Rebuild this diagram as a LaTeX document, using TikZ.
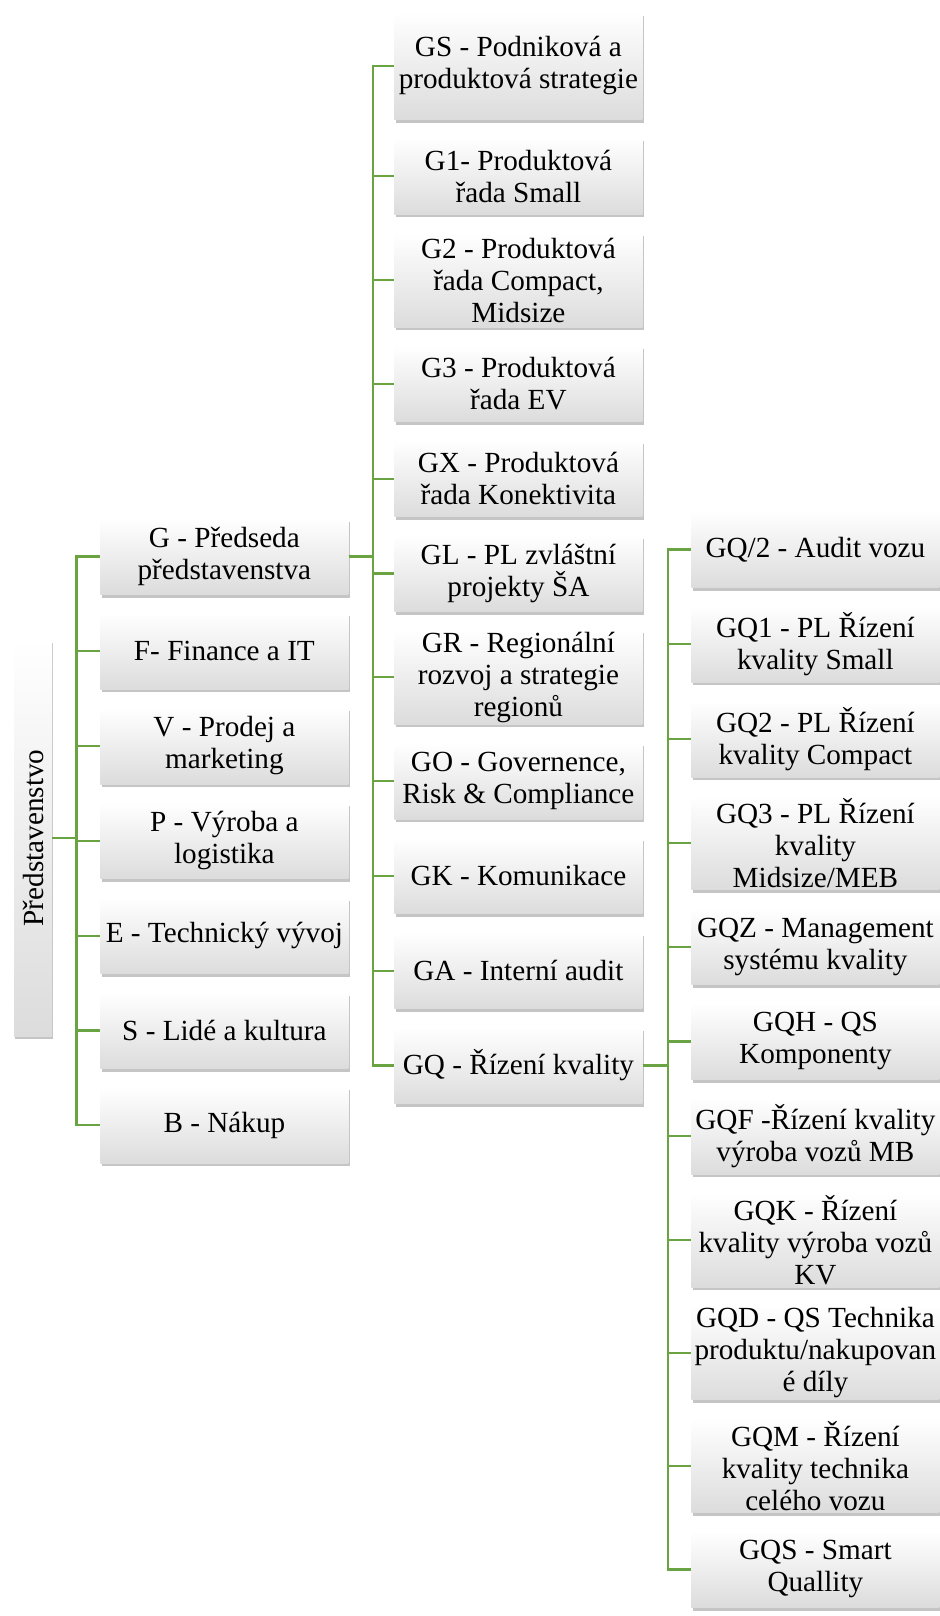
\documentclass[tikz,border=0pt]{standalone}
\usepackage{fontspec}
\setmainfont{Liberation Serif}
\usetikzlibrary{positioning,shadows}
\definecolor{linegreen}{HTML}{6AA341}
\definecolor{boxgray}{HTML}{DCDCDC}

\begin{document}
\begin{tikzpicture}[
  x=0.5pt, y=-0.5pt,
  every node/.style={font=\fontsize{14.6pt}{16pt}\selectfont},
  unit/.style={top color=white, bottom color=boxgray, inner sep=0pt, align=center,
               minimum width=124pt, minimum height=38pt,
               drop shadow={shadow xshift=0.7pt, shadow yshift=-1.6pt, opacity=0.45}},
  tall/.style={unit, minimum height=47pt},
  link/.style={draw=linegreen, line width=1.1pt}
]
  \path[use as bounding box, fill=white] (0,0) rectangle (940,1616);

  % root (rotated, so its south anchor faces right)
  \node[unit, rotate=90, minimum width=198pt, minimum height=19pt] (root) at (33,838) {Představenstvo};

  % board members
  \node[unit, anchor=north west] (g) at (100,518) {G - Předseda\\představenstva};
  \node[unit, below=9pt of g] (f) {F- Finance a IT};
  \node[unit, below=9pt of f] (v) {V - Prodej a\\marketing};
  \node[unit, below=9pt of v] (p) {P - Výroba a\\logistika};
  \node[unit, below=9pt of p] (e) {E - Technický vývoj};
  \node[unit, below=9pt of e] (s) {S - Lidé a kultura};
  \node[unit, below=9pt of s] (b) {B - Nákup};

  % G units
  \node[unit, anchor=north west, minimum height=53.5pt] (gs) at (394,12) {GS - Podniková a\\produktová strategie};
  \node[unit, below=9pt of gs] (g1) {G1- Produktová\\řada Small};
  \node[tall, below=9pt of g1] (g2) {G2 - Produktová\\řada Compact,\\Midsize};
  \node[unit, below=9pt of g2] (g3) {G3 - Produktová\\řada EV};
  \node[unit, below=9pt of g3] (gx) {GX - Produktová\\řada Konektivita};
  \node[unit, below=9pt of gx] (gl) {GL - PL zvláštní\\projekty ŠA};
  \node[tall, below=9pt of gl] (gr) {GR - Regionální\\rozvoj a strategie\\regionů};
  \node[unit, below=9pt of gr] (go) {GO - Governence,\\Risk \& Compliance};
  \node[unit, below=9pt of go] (gk) {GK - Komunikace};
  \node[unit, below=9pt of gk] (ga) {GA - Interní audit};
  \node[unit, below=9pt of ga] (gq) {GQ - Řízení kvality};

  % GQ units
  \node[unit, anchor=north west] (qa) at (691,511) {GQ/2 - Audit vozu};
  \node[unit, below=9pt of qa] (q1) {GQ1 - PL Řízení\\kvality Small};
  \node[unit, below=9pt of q1] (q2) {GQ2 - PL Řízení\\kvality Compact};
  \node[tall, below=9pt of q2] (q3) {GQ3 - PL Řízení\\kvality\\Midsize/MEB};
  \node[unit, below=9pt of q3] (qz) {GQZ - Management\\systému kvality};
  \node[unit, below=9pt of qz] (qh) {GQH - QS\\Komponenty};
  \node[unit, below=9pt of qh] (qf) {GQF -Řízení kvality\\výroba vozů MB};
  \node[tall, below=9pt of qf] (qk) {GQK - Řízení\\kvality výroba vozů\\KV};
  \node[tall, below=9pt of qk] (qd) {GQD - QS Technika\\produktu/nakupovan\\é díly};
  \node[tall, below=9pt of qd] (qm) {GQM - Řízení\\kvality technika\\celého vozu};
  \node[unit, below=9pt of qm] (qs) {GQS - Smart\\Quallity};

  % connectors
  \foreach \n in {g,f,v,p,e,s,b}
    \draw[link] (root.south) -- ++(12pt,0) |- (\n.west);
  \foreach \n in {gs,g1,g2,g3,gx,gl,gr,go,gk,ga,gq}
    \draw[link] (g.east) -- ++(12pt,0) |- (\n.west);
  \foreach \n in {qa,q1,q2,q3,qz,qh,qf,qk,qd,qm,qs}
    \draw[link] (gq.east) -- ++(12.5pt,0) |- (\n.west);
\end{tikzpicture}
\end{document}
